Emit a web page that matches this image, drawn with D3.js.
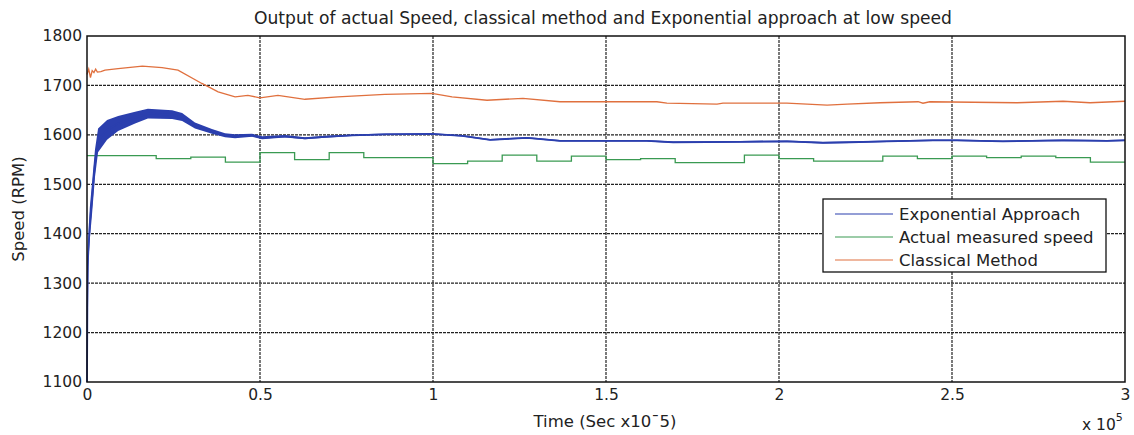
<!DOCTYPE html>
<html>
<head>
<meta charset="utf-8">
<script src="https://cdn.jsdelivr.net/npm/d3@7"></script>
<style>
  body { margin: 0; background: #fff; }
  svg text { font-family: "DejaVu Sans", "Liberation Sans", Arial, sans-serif; fill: #222; }
</style>
</head>
<body>
<div id="chart"></div>
<script>
'use strict';

// Time in units of 1e5, speed in RPM
var expTime = [0, 0.001, 0.003, 0.008, 0.014, 0.023, 0.032, 0.058, 0.09, 0.139,
  0.176, 0.246, 0.275, 0.312, 0.361, 0.399, 0.428, 0.477, 0.506, 0.572,
  0.63, 0.688, 0.766, 0.861, 0.997, 1.084, 1.165, 1.272, 1.367, 1.503,
  1.618, 1.694, 1.887, 2.023, 2.127, 2.205, 2.312, 2.445, 2.514, 2.647,
  2.821, 2.948, 3.0];
var expSpeed = [1100, 1250, 1352, 1420, 1467, 1542, 1589, 1610, 1623, 1635,
  1643, 1641, 1636, 1619, 1607, 1599, 1597, 1599, 1594, 1597,
  1593, 1596, 1599, 1601, 1602, 1598, 1590, 1594, 1588, 1588,
  1588, 1585, 1586, 1587, 1584, 1585, 1587, 1589, 1589, 1587,
  1589, 1588, 1589];
// half height of the noisy band around the exponential curve
var expSpread = [0, 0, 18, 32, 32, 28, 24, 20, 15, 12,
  10, 9, 8, 6, 5, 4, 4, 3, 3, 2.5,
  2, 2, 1.5, 1.5, 1.5, 1.5, 1.5, 1.5, 1.5, 1.5,
  1.5, 1.5, 1.5, 1.5, 1.5, 1.5, 1.5, 1.5, 1.5, 1.5,
  1.5, 1.5, 1.5];

var actualTime = [0, 0.1, 0.2, 0.3, 0.4, 0.5, 0.6, 0.7, 0.8, 0.9,
  1.0, 1.1, 1.2, 1.3, 1.4, 1.5, 1.6, 1.7, 1.8, 1.9,
  2.0, 2.1, 2.2, 2.3, 2.4, 2.5, 2.6, 2.7, 2.8, 2.9, 3.0];
var actualSpeed = [1558, 1558, 1552, 1555, 1545, 1564, 1550, 1564, 1554, 1554,
  1542, 1547, 1559, 1547, 1557, 1550, 1552, 1544, 1544, 1559,
  1552, 1547, 1547, 1557, 1552, 1557, 1554, 1557, 1554, 1545, 1545];

var classicalTime = [0, 0.005, 0.01, 0.015, 0.02, 0.025, 0.03, 0.04, 0.052, 0.09,
  0.16, 0.217, 0.263, 0.332, 0.379, 0.428, 0.465, 0.5, 0.552, 0.63,
  0.725, 0.861, 0.997, 1.055, 1.156, 1.26, 1.367, 1.647, 1.676, 1.821,
  1.838, 2.023, 2.139, 2.197, 2.292, 2.402, 2.416, 2.436, 2.688, 2.821,
  2.899, 3.0];
var classicalSpeed = [1722, 1733, 1716, 1730, 1726, 1733, 1727, 1728, 1731, 1734,
  1739, 1736, 1731, 1704, 1687, 1677, 1680, 1675, 1680, 1672,
  1677, 1682, 1684, 1677, 1670, 1674, 1667, 1667, 1664, 1662,
  1664, 1664, 1660, 1662, 1665, 1667, 1664, 1667, 1665, 1668,
  1665, 1668];

var xTicks = [0, 0.5, 1, 1.5, 2, 2.5, 3];
var yTicks = [1100, 1200, 1300, 1400, 1500, 1600, 1700, 1800];
var legendLabels = ['Exponential Approach', 'Actual measured speed', 'Classical Method'];
var colors = ['#2b3fae', '#3a9a52', '#e0703e'];

var width = 1134;
var height = 435;
var margin = { top: 36, right: 9, bottom: 53, left: 87 };
var innerW = width - margin.left - margin.right;
var innerH = height - margin.top - margin.bottom;

var svg = d3.select('#chart').append('svg').attr('width', width).attr('height', height);
var g = svg.append('g').attr('transform', 'translate(' + margin.left + ',' + margin.top + ')');

var x = d3.scaleLinear().domain([0, 3]).range([0, innerW]);
var y = d3.scaleLinear().domain([1100, 1800]).range([innerH, 0]);

// grid
g.append('g').selectAll('line').data(xTicks.slice(1, -1)).enter().append('line')
  .attr('x1', function (d) { return x(d); }).attr('x2', function (d) { return x(d); })
  .attr('y1', 0).attr('y2', innerH)
  .attr('stroke', '#222').attr('stroke-width', 1.2).attr('stroke-dasharray', '3,1');
g.append('g').selectAll('line').data(yTicks.slice(1, -1)).enter().append('line')
  .attr('y1', function (d) { return y(d); }).attr('y2', function (d) { return y(d); })
  .attr('x1', 0).attr('x2', innerW)
  .attr('stroke', '#222').attr('stroke-width', 1.2).attr('stroke-dasharray', '3,1');

// series
var expData = expTime.map(function (t, i) { return { t: t, v: expSpeed[i], s: expSpread[i] }; });
var actualData = actualTime.map(function (t, i) { return { t: t, v: actualSpeed[i] }; });
var classicalData = classicalTime.map(function (t, i) { return { t: t, v: classicalSpeed[i] }; });

var line = d3.line().x(function (d) { return x(d.t); }).y(function (d) { return y(d.v); });
var stepLine = d3.line().curve(d3.curveStepAfter)
  .x(function (d) { return x(d.t); }).y(function (d) { return y(d.v); });

g.append('path').datum(classicalData).attr('d', line)
  .attr('fill', 'none').attr('stroke', colors[2]).attr('stroke-width', 1.3);

g.append('path').datum(actualData).attr('d', stepLine)
  .attr('fill', 'none').attr('stroke', colors[1]).attr('stroke-width', 1.3);

var band = d3.area()
  .x(function (d) { return x(d.t); })
  .y0(function (d) { return y(d.v - d.s); })
  .y1(function (d) { return y(d.v + d.s); });
g.append('path').datum(expData).attr('d', band).attr('fill', colors[0]);
g.append('path').datum(expData).attr('d', line)
  .attr('fill', 'none').attr('stroke', colors[0]).attr('stroke-width', 1.8);

// frame
g.append('rect').attr('width', innerW).attr('height', innerH)
  .attr('fill', 'none').attr('stroke', '#111').attr('stroke-width', 1.5);

// axes
var xAxis = g.append('g').attr('transform', 'translate(0,' + innerH + ')')
  .call(d3.axisBottom(x).tickValues(xTicks).tickSize(0).tickPadding(7).tickFormat(d3.format('')));
var yAxis = g.append('g')
  .call(d3.axisLeft(y).tickValues(yTicks).tickSize(0).tickPadding(5).tickFormat(d3.format('d')));
[xAxis, yAxis].forEach(function (a) {
  a.select('.domain').remove();
  a.selectAll('text').attr('font-size', 15.5).attr('fill', '#222')
    .style('font-family', '"DejaVu Sans", "Liberation Sans", Arial, sans-serif');
});

// titles
svg.append('text').attr('x', margin.left + innerW / 2 - 3).attr('y', 24)
  .attr('text-anchor', 'middle').attr('font-size', 17)
  .attr('textLength', 698).attr('lengthAdjust', 'spacingAndGlyphs')
  .text('Output of actual Speed, classical method and Exponential approach at low speed');
svg.append('text').attr('x', 605).attr('y', 427)
  .attr('text-anchor', 'middle').attr('font-size', 16.5)
  .text('Time (Sec x10ˉ5)');
svg.append('text').attr('transform', 'translate(24,' + (margin.top + innerH / 2) + ') rotate(-90)')
  .attr('text-anchor', 'middle').attr('font-size', 16.5)
  .text('Speed (RPM)');
var mult = svg.append('text').attr('x', 1082).attr('y', 430).attr('font-size', 15.5);
mult.append('tspan').text('x 10');
mult.append('tspan').attr('dy', -9).attr('font-size', 11).text('5');

// legend
var legend = g.append('g').attr('transform', 'translate(' + (823 - margin.left) + ',' + (199 - margin.top) + ')');
legend.append('rect').attr('width', 283).attr('height', 73)
  .attr('fill', '#fff').attr('stroke', '#111').attr('stroke-width', 1.3);
legendLabels.forEach(function (label, i) {
  var ly = 15 + i * 23;
  legend.append('line').attr('x1', 12).attr('x2', 70).attr('y1', ly).attr('y2', ly)
    .attr('stroke', colors[i]).attr('stroke-width', 1.2);
  legend.append('text').attr('x', 76).attr('y', ly + 6).attr('font-size', 16.5).text(label);
});
</script>
</body>
</html>
